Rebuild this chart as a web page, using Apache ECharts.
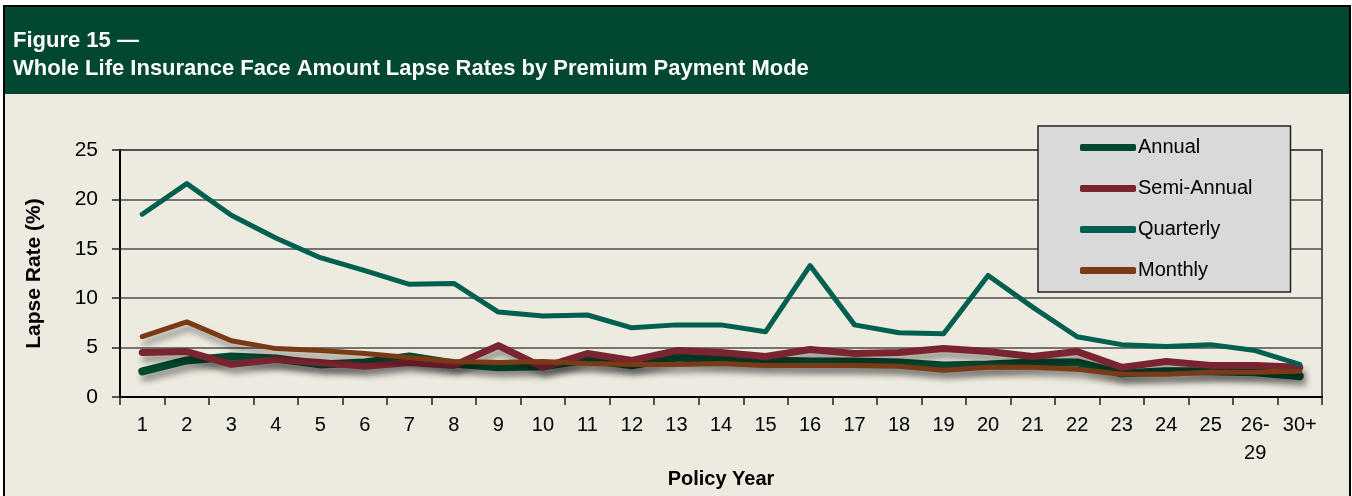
<!DOCTYPE html>
<html>
<head>
<meta charset="utf-8">
<title>Figure 15</title>
<script src="https://cdn.jsdelivr.net/npm/echarts@6/dist/echarts.min.js"></script>
<style>
    html, body { margin: 0; padding: 0; background: #fff; }
    #chart { width: 1352px; height: 496px; }
</style>
</head>
<body>
<div id="chart"></div>
<script>
// policy years
var years = ['1','2','3','4','5','6','7','8','9','10','11','12','13','14','15','16','17','18','19','20','21','22','23','24','25','26-\n29','30+'];

// lapse rates (%)
var annual     = [2.6, 3.7, 4.1, 3.9, 3.3, 3.5, 4.1, 3.4, 3.0, 3.1, 3.8, 3.2, 4.0, 3.8, 3.7, 3.6, 3.6, 3.5, 3.2, 3.3, 3.5, 3.5, 2.4, 2.6, 2.6, 2.5, 2.1];
var semiAnnual = [4.5, 4.6, 3.3, 3.8, 3.5, 3.1, 3.5, 3.2, 5.2, 3.0, 4.4, 3.7, 4.7, 4.5, 4.1, 4.8, 4.4, 4.5, 4.9, 4.6, 4.1, 4.6, 3.0, 3.6, 3.2, 3.2, 3.0];
var quarterly  = [18.5, 21.6, 18.4, 16.1, 14.1, 12.8, 11.4, 11.5, 8.6, 8.2, 8.3, 7.0, 7.3, 7.3, 6.6, 13.3, 7.3, 6.5, 6.4, 12.3, 9.1, 6.1, 5.3, 5.1, 5.3, 4.7, 3.3];
var monthly    = [6.1, 7.6, 5.7, 4.9, 4.7, 4.4, 4.0, 3.6, 3.5, 3.6, 3.4, 3.3, 3.3, 3.4, 3.2, 3.2, 3.2, 3.1, 2.7, 3.0, 3.0, 2.8, 2.3, 2.3, 2.5, 2.5, 2.6];

var FONT = "'Liberation Sans', Arial, sans-serif";

function lineSeries(name, data, color, width, shadow) {
    var style = { color: color, width: width, cap: 'round', join: 'round' };
    if (shadow) {
        style.shadowColor = 'rgba(0,0,0,0.4)';
        style.shadowBlur = 6;
        style.shadowOffsetX = 3;
        style.shadowOffsetY = 6;
    }
    return {
        name: name,
        type: 'line',
        data: data,
        color: color,
        showSymbol: false,
        symbol: 'none',
        lineStyle: style,
        emphasis: { disabled: true }
    };
}

var chart = echarts.init(document.getElementById('chart'));
chart.setOption({
    animation: false,
    backgroundColor: '#ffffff',
    graphic: [
        { type: 'rect', z: -10, shape: { x: 4, y: 6, width: 1346, height: 500 },
          style: { fill: '#EDEBE0', stroke: '#000', lineWidth: 2 } },
        { type: 'rect', z: -9, shape: { x: 5, y: 7, width: 1344, height: 87 },
          style: { fill: '#02472F' } }
    ],
    title: {
        text: 'Figure 15 \u2014\nWhole Life Insurance Face Amount Lapse Rates by Premium Payment Mode',
        left: 13,
        top: 27,
        padding: 0,
        textStyle: {
            color: '#ffffff',
            fontFamily: FONT,
            fontWeight: 'bold',
            fontSize: 22,
            lineHeight: 28
        }
    },
    legend: {
        orient: 'vertical',
        left: 1038,
        top: 126,
        padding: [10, 38, 10, 42],
        itemGap: 18,
        itemWidth: 56,
        itemHeight: 7,
        icon: 'roundRect',
        backgroundColor: '#D9D9D9',
        borderColor: '#222',
        borderWidth: 1.5,
        selectedMode: false,
        textStyle: { color: '#000', fontFamily: FONT, fontSize: 20, lineHeight: 23, padding: [0, 0, 0, -3] },
        data: ['Annual', 'Semi-Annual', 'Quarterly', 'Monthly']
    },
    grid: {
        left: 120,
        right: 30,
        top: 150,
        bottom: 99,
        show: true,
        borderColor: '#222',
        borderWidth: 1.5,
        backgroundColor: 'transparent'
    },
    xAxis: {
        type: 'category',
        data: years,
        boundaryGap: true,
        name: 'Policy Year',
        nameLocation: 'middle',
        nameGap: 72,
        nameTextStyle: { color: '#000', fontFamily: FONT, fontWeight: 'bold', fontSize: 20 },
        axisLine: { lineStyle: { color: '#000', width: 2 } },
        axisTick: { show: true, length: 8, inside: false, lineStyle: { color: '#222', width: 1.5 } },
        axisLabel: { color: '#000', fontFamily: FONT, fontSize: 20, lineHeight: 28, margin: 14, interval: 0 },
        splitLine: { show: false }
    },
    yAxis: {
        type: 'value',
        min: 0,
        max: 25,
        interval: 5,
        name: 'Lapse Rate (%)',
        nameLocation: 'middle',
        nameGap: 75,
        nameRotate: 90,
        nameTextStyle: { color: '#000', fontFamily: FONT, fontWeight: 'bold', fontSize: 21 },
        axisLine: { show: true, lineStyle: { color: '#000', width: 2 } },
        axisTick: { show: true, length: 8, lineStyle: { color: '#222', width: 1.5 } },
        axisLabel: { color: '#000', fontFamily: FONT, fontSize: 21, margin: 22 },
        splitLine: { show: true, lineStyle: { color: '#4d4d4d', width: 1.5 } }
    },
    series: [
        lineSeries('Annual', annual, '#00482E', 8, true),
        lineSeries('Semi-Annual', semiAnnual, '#7A2430', 7, true),
        lineSeries('Quarterly', quarterly, '#005F4F', 5, false),
        lineSeries('Monthly', monthly, '#7A3A15', 5, true)
    ]
});
</script>
</body>
</html>
